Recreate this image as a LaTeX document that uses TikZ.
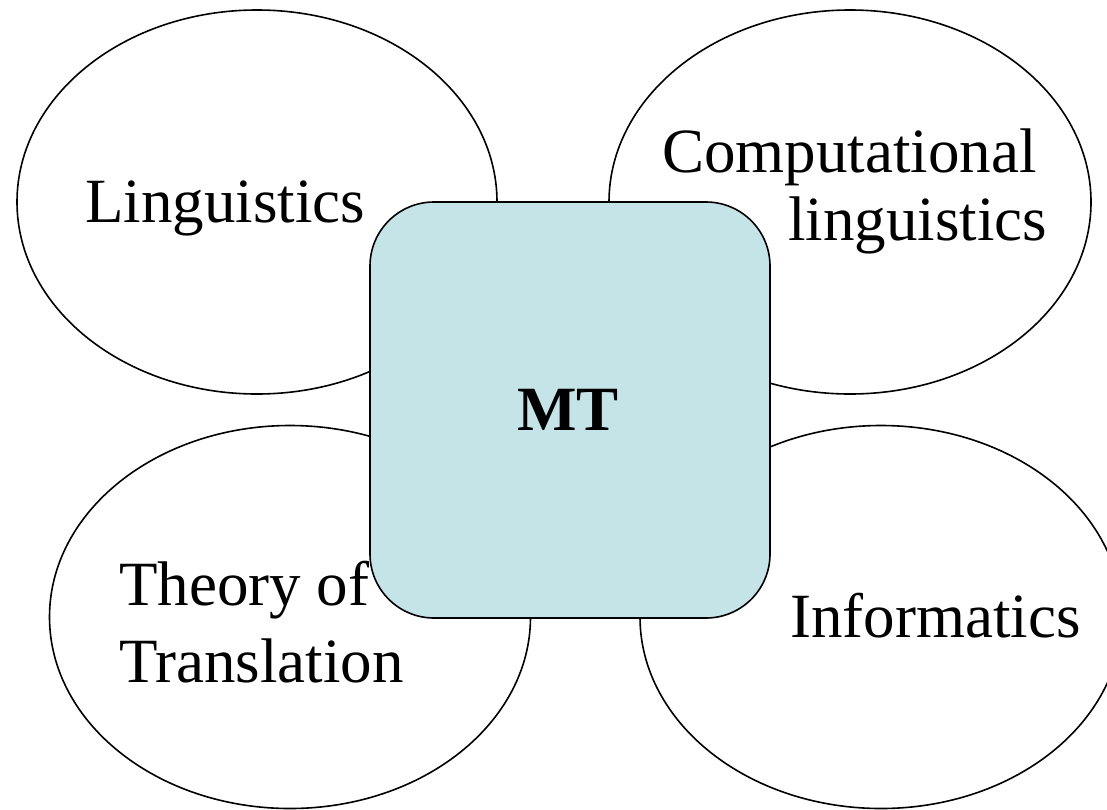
\documentclass[tikz,border=0pt]{standalone}
\usepackage{fontspec}
\setmainfont{Liberation Serif}
\usetikzlibrary{shapes.geometric}
\definecolor{mtfill}{RGB}{197,228,232}
\tikzset{
  field/.style={ellipse, draw=black, line width=1.6pt, fill=white, inner sep=0pt},
  core/.style={rectangle, draw=black, line width=1.6pt, fill=mtfill, rounded corners=64pt, inner sep=0pt,
               minimum width=400pt, minimum height=416pt},
  label/.style={inner sep=0pt, font=\fontsize{63}{75}\selectfont}
}
\begin{document}
\begin{tikzpicture}[x=1pt, y=-1pt]
  \useasboundingbox (0,0) rectangle (1107,809);
  \clip (0,0) rectangle (1107,809);
  \fill[white] (0,0) rectangle (1107,809);
  % surrounding fields
  \node[field, minimum width=480pt, minimum height=384pt] (ling) at (257,202) {};
  \node[field, minimum width=482pt, minimum height=384pt] (comp) at (850,202) {};
  \node[field, minimum width=481pt, minimum height=383pt] (theo) at (290,617) {};
  \node[field, minimum width=482pt, minimum height=383pt] (info) at (881,617) {};
  % central block
  \node[core] (mt) at (570,410) {};
  % labels
  \node[label, anchor=base west] (tling) at (85,222) {Linguistics};
  \node[label, anchor=base west] (tcomp1) at (662,172) {Computational};
  \node[label, anchor=base west] (tcomp2) at (788,240) {linguistics};
  \node[label, anchor=base west] (ttheo1) at (119,605) {Theory of};
  \node[label, anchor=base west] (ttheo2) at (119,682) {Translation};
  \node[label, anchor=base west] (tinfo) at (790,637) {Informatics};
  \node[label, anchor=base, font=\fontsize{63}{75}\selectfont\bfseries] (tmt) at (568,430) {MT};
\end{tikzpicture}
\end{document}
